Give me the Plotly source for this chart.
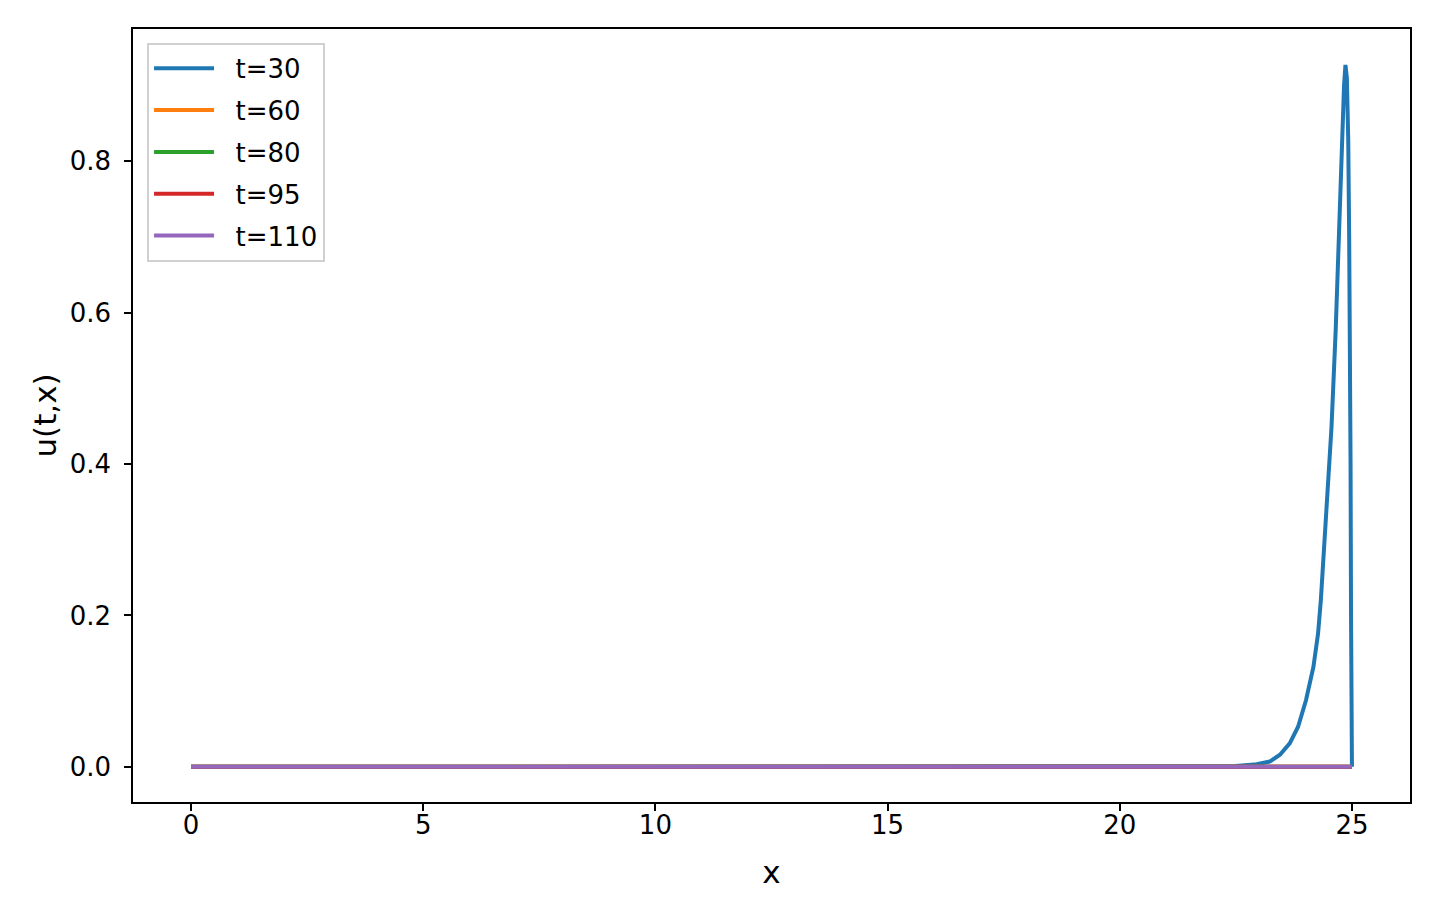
import plotly.graph_objects as go

# values
x_t30 = [0.0, 22.0, 22.5, 22.95, 23.23, 23.45, 23.66, 23.84, 24.01, 24.17,
         24.27, 24.33, 24.44, 24.56, 24.65, 24.71, 24.79, 24.83, 24.86,
         24.89, 24.92, 24.94, 24.96, 24.97, 24.98, 24.99, 25.0]
u_t30 = [0.0, 0.0, 0.001, 0.0035, 0.007, 0.016, 0.031, 0.053, 0.088, 0.132,
         0.176, 0.220, 0.326, 0.449, 0.577, 0.700, 0.828, 0.900, 0.927,
         0.910, 0.828, 0.700, 0.550, 0.400, 0.200, 0.020, 0.0]

x_flat = [0.0, 25.0]
u_t60 = [0.0, 0.0]
u_t80 = [0.0, 0.0]
u_t95 = [0.0, 0.0]
u_t110 = [0.0, 0.0]

labels = ['t=30', 't=60', 't=80', 't=95', 't=110']
colors = ['#1f77b4', '#ff7f0e', '#2ca02c', '#d62728', '#9467bd']

series = [(x_t30, u_t30), (x_flat, u_t60), (x_flat, u_t80), (x_flat, u_t95), (x_flat, u_t110)]

fig = go.Figure()
for (xs, ys), name, col in zip(series, labels, colors):
    fig.add_trace(go.Scatter(
        x=xs, y=ys, mode='lines', name='\u00a0\u00a0' + name, legendgroup=name,
        line=dict(color=col, width=4)
    ))

axis_style = dict(
    showline=True, linecolor='black', linewidth=1.5, mirror=True,
    ticks='outside', ticklen=7, tickwidth=1.5, tickcolor='black',
    showgrid=False, zeroline=False,
    tickfont=dict(size=26, color='black'),
)

fig.update_layout(
    width=1440, height=919,
    font=dict(family='DejaVu Sans', size=26, color='black'),
    plot_bgcolor='white', paper_bgcolor='white',
    margin=dict(l=125, r=38, t=21, b=125),
    xaxis=dict(range=[-1.25, 26.25], tickvals=[0, 5, 10, 15, 20, 25],
               ticklabelstandoff=-8,
               title=dict(text='x', standoff=22), **axis_style),
    yaxis=dict(range=[-0.0464, 0.9744], tickvals=[0.0, 0.2, 0.4, 0.6, 0.8],
               tickformat='.1f', ticklabelstandoff=8,
               title=dict(text='u(t,x)', standoff=4), **axis_style),
    legend=dict(
        x=0.011, y=0.982, xanchor='left', yanchor='top',
        bgcolor='white', bordercolor='#d0d0d0', borderwidth=2,
        font=dict(size=26), tracegroupgap=5, itemwidth=60,
    ),
    showlegend=True,
)

fig.write_html("out.html")
